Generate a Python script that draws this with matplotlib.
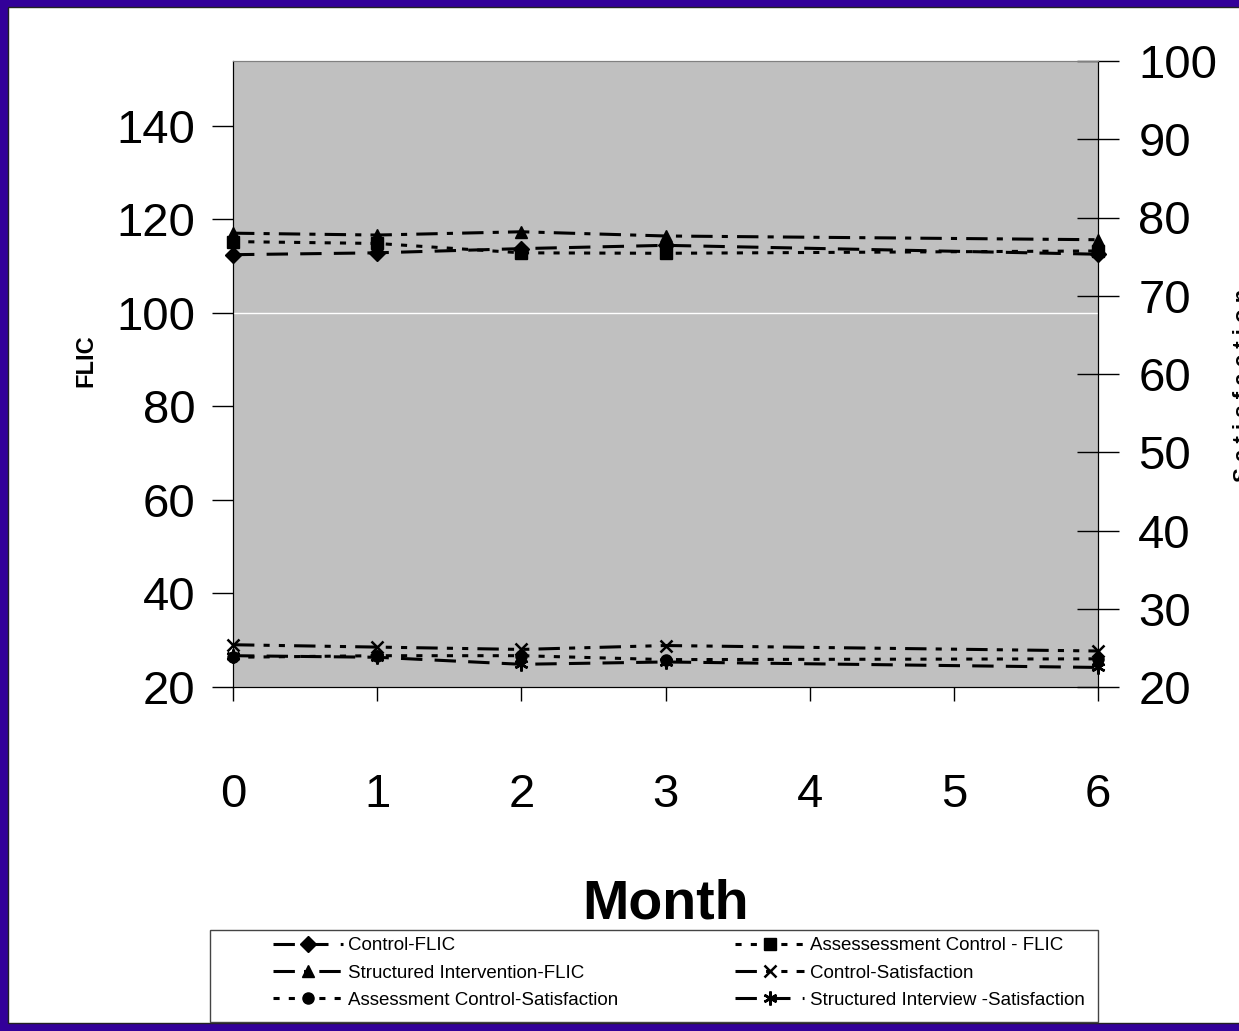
import matplotlib
matplotlib.use("Agg")
import matplotlib.pyplot as plt
from matplotlib.patches import Rectangle

plt.rcParams['font.family'] = ['Liberation Sans Narrow', 'Liberation Sans', 'DejaVu Sans']

months = [0, 1, 2, 3, 6]
control_flic = [112.4, 112.8, 113.7, 114.4, 112.5]
assess_flic = [115.2, 114.8, 112.8, 112.7, 113.2]
struct_flic = [117.0, 116.6, 117.3, 116.4, 115.6]
control_sat = [25.4, 25.1, 24.8, 25.3, 24.6]
assess_sat = [23.8, 24.0, 24.0, 23.5, 23.6]
struct_sat = [24.0, 23.8, 22.9, 23.2, 22.5]

left_ticks = [20, 40, 60, 80, 100, 120, 140]
right_ticks = [20, 30, 40, 50, 60, 70, 80, 90, 100]
x_ticks = [0, 1, 2, 3, 4, 5, 6]

labels = {
    'cf': 'Control-FLIC',
    'af': 'Assessessment Control - FLIC',
    'sf': 'Structured Intervention-FLIC',
    'cs': 'Control-Satisfaction',
    'as': 'Assessment Control-Satisfaction',
    'ss': 'Structured Interview -Satisfaction',
}

W, H = 1239, 1031
fig = plt.figure(figsize=(W / 100, H / 100), dpi=100)
fig.patch.set_facecolor('#330099')
bg = Rectangle((8 / W, 8 / H), 1.0, 1 - 15 / H, transform=fig.transFigure,
               facecolor='white', edgecolor='#222222', linewidth=1, zorder=-10)
fig.patches.append(bg)

ax = fig.add_axes([233 / W, 1 - 687 / H, (1098 - 233) / W, (687 - 61) / H])
ax.set_zorder(1)
ax.set_facecolor('#C0C0C0')
ax2 = ax.twinx()
ax2.set_zorder(2)

ax.set_xlim(0, 6)
ax.set_ylim(20, 153.8)
ax2.set_ylim(20, 100)

ax.axhline(100, color='white', lw=1, zorder=1)

lw = 2.2
ms = 8
h = {}
h['cf'], = ax.plot(months, control_flic, color='black', lw=lw, dashes=(7, 4), marker='D', ms=ms, label=labels['cf'], clip_on=False)
h['af'], = ax.plot(months, assess_flic, color='black', lw=lw, dashes=(2, 3), marker='s', ms=ms, label=labels['af'], clip_on=False)
h['sf'], = ax.plot(months, struct_flic, color='black', lw=lw, dashes=(7, 3, 2, 3), marker='^', ms=ms + 1, label=labels['sf'], clip_on=False)
h['cs'], = ax2.plot(months, control_sat, color='black', lw=lw, dashes=(7, 3, 2, 3, 2, 3), marker='x', ms=ms + 1, mew=1.8, label=labels['cs'], clip_on=False)
h['as'], = ax2.plot(months, assess_sat, color='black', lw=lw, dashes=(2, 3), marker='o', ms=ms, label=labels['as'], clip_on=False)
h['ss'], = ax2.plot(months, struct_sat, color='black', lw=lw, dashes=(7, 4), marker=(6, 2, 0), ms=ms + 2, mew=1.8, label=labels['ss'], clip_on=False)

ax.set_xticks(x_ticks)
ax.set_yticks(left_ticks)
ax2.set_yticks(right_ticks)

tick_font = 34
ax.tick_params(axis='y', direction='out', length=15, width=1, labelsize=tick_font, pad=12)
ax.tick_params(axis='x', direction='out', length=10, width=1, labelsize=tick_font, pad=52)
ax2.tick_params(axis='y', direction='inout', length=30, width=1, labelsize=tick_font, pad=14)

for a in (ax, ax2):
    a.spines['top'].set_color('#808080')
    a.spines['left'].set_color('black')
    a.spines['right'].set_color('black')
    a.spines['bottom'].set_color('black')

ax.set_xlabel('Month', fontsize=40, fontweight='bold', labelpad=44)
fig.text(86 / W, 1 - 361 / H, 'FLIC', rotation=90, ha='center', va='center',
         fontsize=17, fontweight='bold')
fig.text(1233 / W, 1 - 385 / H, 'S a t i s f a c t i o n', rotation=90, ha='left', va='center',
         fontsize=16, fontweight='bold')

fig.patches.append(Rectangle((210 / W, 1 - 1022 / H), 888 / W, 92 / H, transform=fig.transFigure,
                             facecolor='white', edgecolor='#444444', linewidth=1, zorder=3))

order = ['cf', 'sf', 'as', 'af', 'cs', 'ss']
leg = fig.legend([h[k] for k in order], [labels[k] for k in order], ncol=2,
                 loc='upper left', bbox_to_anchor=(266 / W, 1 - 1022 / H, 826 / W, 92 / H),
                 mode='expand', fontsize=13.5, frameon=False,
                 handlelength=3.7, handletextpad=0.3,
                 labelspacing=0.54, borderaxespad=0, columnspacing=2, borderpad=0.38)
leg.set_zorder(5)

fig.savefig('out.png', dpi=100, facecolor=fig.get_facecolor())
